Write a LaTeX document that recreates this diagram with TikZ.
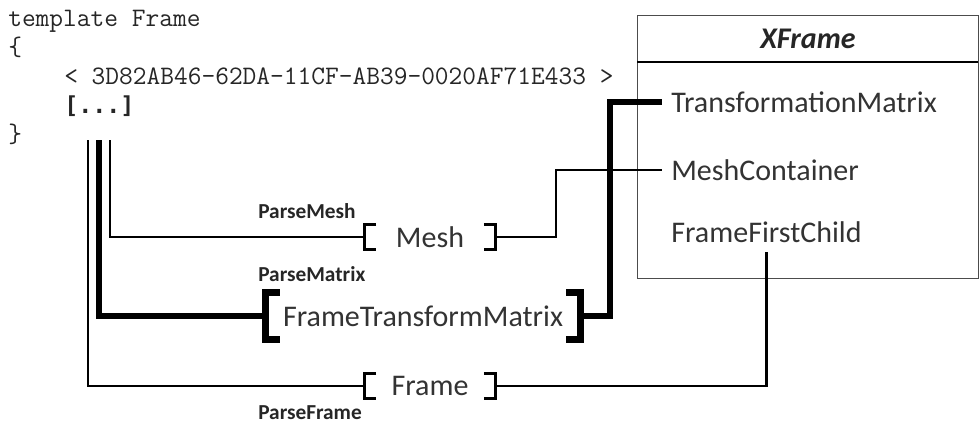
\documentclass[tikz,border=0pt]{standalone}
\usepackage{fontspec}
\setmainfont{Carlito}
\newfontfamily\codeheavy{DejaVu Sans Mono}
\usetikzlibrary{calc}

% square brackets drawn on the left and right edges of a slot node
\newcommand\slotbrackets[3]{%
  \draw[line width=#3] ($(#1.north west)+(#2,0)$) -- (#1.north west) -- (#1.south west) -- ++(#2,0);
  \draw[line width=#3] ($(#1.north east)+(-#2,0)$) -- (#1.north east) -- (#1.south east) -- ++(-#2,0);}

\begin{document}
\begin{tikzpicture}[x=0.75pt,y=-0.75pt,
  code/.style={anchor=base west, inner sep=0pt, font=\ttfamily\fontsize{20}{22}\selectfont, text=black!85},
  field/.style={anchor=west, inner sep=0pt, outer xsep=7pt, font=\fontsize{22.5}{26}\selectfont, text=black!80},
  tag/.style={anchor=base west, inner sep=0pt, font=\bfseries\fontsize{16}{18}\selectfont, text=black!85},
  slot/.style={inner sep=0pt, font=\fontsize{22.5}{26}\selectfont, text=black!80},
  thinwire/.style={line width=1.9pt},
  heavywire/.style={line width=4.5pt}]
\useasboundingbox (0,0) rectangle (980,425);

% template source
\node[code] (tpl)   at (8,26)   {template Frame};
\node[code] (open)  at (8,55)   {\{};
\node[code] (guid)  at (64,84)  {< 3D82AB46-62DA-11CF-AB39-0020AF71E433 >};
\node[code, font=\codeheavy\bfseries\fontsize{17.5}{20}\selectfont] (dots) at (64,113) {[...]};
\node[code] (close) at (8,142)  {\}};

\coordinate (sFrame) at (88,140);
\coordinate (sMat)   at (99,140);
\coordinate (sMesh)  at (110,140);

% XFrame structure
\node[draw=black!70, line width=1.1pt, minimum width=341*0.75pt, minimum height=263*0.75pt,
      inner sep=0pt, anchor=north west] (xframe) at (637,15) {};
\draw[line width=1.9pt] (637,62) -- (978,62);
\node[font=\bfseries\itshape\fontsize{22.5}{26}\selectfont, text=black!85] (title) at (808,39) {XFrame};
\node[field] (tm)  at (662,102) {TransformationMatrix};
\node[field] (mc)  at (662,170) {MeshContainer};
\node[field, outer ysep=7pt] (ffc) at (662,232) {FrameFirstChild};

% data objects
\node[slot, minimum width=131*0.75pt, minimum height=24*0.75pt] (mesh)  at (430,237) {Mesh};
\node[slot, minimum width=314*0.75pt, minimum height=47*0.75pt] (ftm)   at (423,316) {FrameTransformMatrix};
\node[slot, minimum width=131*0.75pt, minimum height=24*0.75pt] (frame) at (430,386) {Frame};
\slotbrackets{mesh}{12}{2.3pt}
\slotbrackets{ftm}{14}{5pt}
\slotbrackets{frame}{12}{2.3pt}

% parser labels
\node[tag] (pmesh)  at (258,218) {ParseMesh};
\node[tag] (pmat)   at (258,281) {ParseMatrix};
\node[tag] (pframe) at (258,419) {ParseFrame};

% connectors
\draw[thinwire]  (sMesh) |- (mesh.west);
\draw[thinwire]  (mesh.east) -- ++(60,0) |- (mc.west);
\draw[heavywire] (sMat) |- (ftm.west);
\draw[heavywire] (ftm.east) -- ++(30,0) |- (tm.west);
\draw[thinwire]  (sFrame) |- (frame.west);
\draw[thinwire]  (frame.east) -| (ffc.south);
\end{tikzpicture}
\end{document}
